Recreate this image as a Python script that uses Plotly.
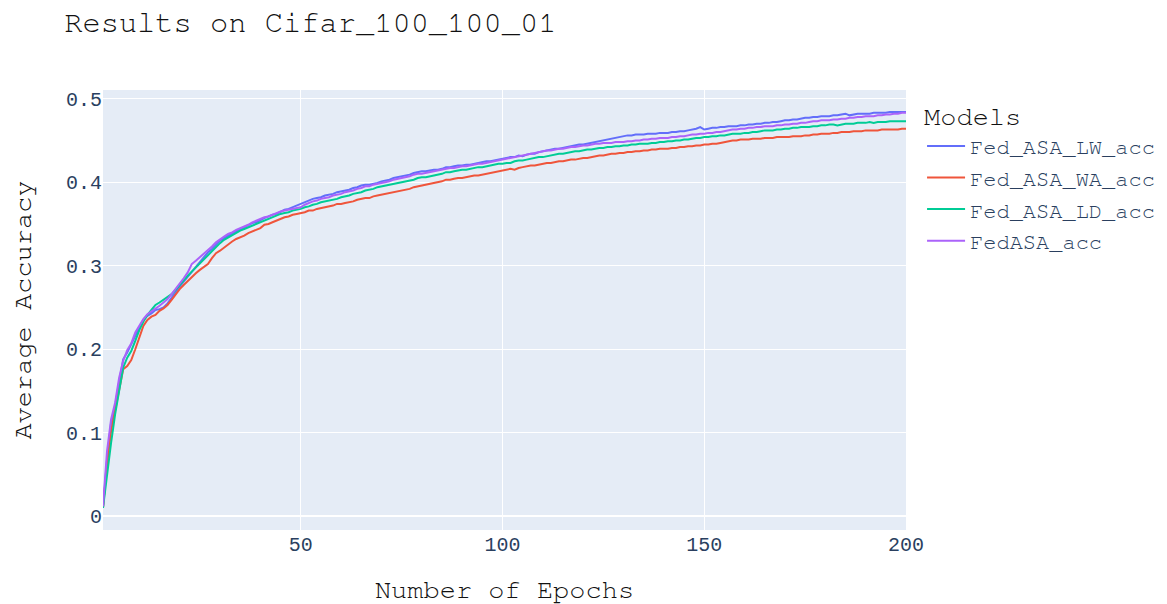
import plotly.graph_objects as go

epochs = list(range(1, 201))

fed_asa_lw = [
    0.010, 0.068, 0.112, 0.132, 0.161, 0.188, 0.196, 0.206, 0.218, 0.226,
    0.235, 0.240, 0.243, 0.247, 0.248, 0.250, 0.255, 0.262, 0.268, 0.275,
    0.281, 0.287, 0.293, 0.299, 0.305, 0.310, 0.316, 0.320, 0.325, 0.330,
    0.333, 0.336, 0.339, 0.341, 0.344, 0.346, 0.349, 0.351, 0.352, 0.355,
    0.357, 0.359, 0.361, 0.362, 0.365, 0.367, 0.368, 0.370, 0.372, 0.374,
    0.376, 0.378, 0.380, 0.381, 0.382, 0.384, 0.385, 0.386, 0.388, 0.389,
    0.390, 0.391, 0.393, 0.394, 0.396, 0.397, 0.397, 0.398, 0.399, 0.401,
    0.402, 0.403, 0.405, 0.406, 0.407, 0.408, 0.409, 0.411, 0.412, 0.413,
    0.413, 0.414, 0.415, 0.415, 0.416, 0.418, 0.418, 0.419, 0.420, 0.420,
    0.421, 0.421, 0.422, 0.423, 0.424, 0.425, 0.425, 0.426, 0.427, 0.428,
    0.429, 0.430, 0.430, 0.432, 0.431, 0.433, 0.434, 0.434, 0.436, 0.437,
    0.438, 0.439, 0.440, 0.440, 0.441, 0.442, 0.443, 0.444, 0.445, 0.445,
    0.446, 0.447, 0.448, 0.449, 0.450, 0.451, 0.452, 0.453, 0.454, 0.455,
    0.456, 0.456, 0.457, 0.457, 0.457, 0.458, 0.458, 0.458, 0.459, 0.459,
    0.459, 0.460, 0.460, 0.461, 0.461, 0.462, 0.463, 0.464, 0.466, 0.463,
    0.464, 0.465, 0.465, 0.466, 0.466, 0.467, 0.467, 0.467, 0.468, 0.468,
    0.469, 0.469, 0.470, 0.470, 0.471, 0.471, 0.472, 0.472, 0.473, 0.474,
    0.474, 0.475, 0.475, 0.476, 0.477, 0.477, 0.478, 0.478, 0.479, 0.479,
    0.479, 0.480, 0.480, 0.481, 0.482, 0.480, 0.481, 0.482, 0.482, 0.482,
    0.482, 0.483, 0.483, 0.483, 0.483, 0.484, 0.484, 0.484, 0.484, 0.484,
]

fed_asa_wa = [
    0.010, 0.062, 0.102, 0.126, 0.152, 0.176, 0.180, 0.187, 0.200, 0.215,
    0.228, 0.235, 0.239, 0.241, 0.246, 0.249, 0.253, 0.259, 0.266, 0.272,
    0.277, 0.282, 0.286, 0.291, 0.295, 0.298, 0.302, 0.309, 0.315, 0.318,
    0.322, 0.326, 0.329, 0.332, 0.334, 0.336, 0.339, 0.341, 0.343, 0.345,
    0.349, 0.350, 0.352, 0.354, 0.356, 0.358, 0.359, 0.361, 0.362, 0.363,
    0.364, 0.366, 0.366, 0.368, 0.369, 0.370, 0.371, 0.372, 0.374, 0.374,
    0.375, 0.376, 0.377, 0.379, 0.380, 0.381, 0.381, 0.383, 0.384, 0.385,
    0.386, 0.387, 0.388, 0.389, 0.390, 0.391, 0.392, 0.394, 0.395, 0.396,
    0.397, 0.398, 0.399, 0.400, 0.401, 0.403, 0.403, 0.404, 0.405, 0.405,
    0.406, 0.407, 0.408, 0.408, 0.409, 0.410, 0.411, 0.412, 0.413, 0.414,
    0.415, 0.416, 0.415, 0.417, 0.418, 0.419, 0.420, 0.420, 0.421, 0.422,
    0.423, 0.423, 0.424, 0.425, 0.425, 0.426, 0.427, 0.427, 0.428, 0.429,
    0.429, 0.430, 0.431, 0.432, 0.432, 0.433, 0.434, 0.434, 0.435, 0.435,
    0.436, 0.436, 0.437, 0.437, 0.438, 0.438, 0.439, 0.439, 0.440, 0.440,
    0.440, 0.441, 0.441, 0.442, 0.442, 0.443, 0.443, 0.444, 0.444, 0.445,
    0.445, 0.446, 0.446, 0.447, 0.448, 0.449, 0.450, 0.450, 0.451, 0.451,
    0.451, 0.452, 0.452, 0.452, 0.453, 0.453, 0.453, 0.454, 0.454, 0.454,
    0.454, 0.455, 0.455, 0.455, 0.456, 0.456, 0.457, 0.457, 0.458, 0.458,
    0.458, 0.459, 0.459, 0.460, 0.460, 0.460, 0.461, 0.461, 0.461, 0.462,
    0.462, 0.462, 0.462, 0.463, 0.463, 0.463, 0.463, 0.463, 0.464, 0.464,
]

fed_asa_ld = [
    0.010, 0.052, 0.088, 0.122, 0.150, 0.178, 0.190, 0.198, 0.210, 0.223,
    0.233, 0.241, 0.247, 0.253, 0.256, 0.259, 0.262, 0.266, 0.271, 0.277,
    0.282, 0.288, 0.293, 0.298, 0.303, 0.308, 0.313, 0.318, 0.323, 0.327,
    0.331, 0.334, 0.337, 0.340, 0.342, 0.344, 0.346, 0.348, 0.350, 0.352,
    0.354, 0.356, 0.358, 0.360, 0.362, 0.363, 0.364, 0.366, 0.367, 0.368,
    0.370, 0.371, 0.373, 0.374, 0.376, 0.377, 0.378, 0.379, 0.380, 0.382,
    0.383, 0.384, 0.386, 0.387, 0.388, 0.390, 0.391, 0.392, 0.394, 0.395,
    0.396, 0.397, 0.398, 0.399, 0.400, 0.401, 0.402, 0.403, 0.405, 0.406,
    0.406, 0.407, 0.408, 0.409, 0.410, 0.412, 0.412, 0.413, 0.414, 0.415,
    0.415, 0.416, 0.417, 0.418, 0.418, 0.419, 0.420, 0.421, 0.422, 0.422,
    0.423, 0.423, 0.425, 0.426, 0.426, 0.427, 0.428, 0.429, 0.430, 0.430,
    0.431, 0.432, 0.433, 0.434, 0.434, 0.435, 0.436, 0.437, 0.437, 0.438,
    0.439, 0.439, 0.440, 0.441, 0.441, 0.442, 0.442, 0.443, 0.443, 0.444,
    0.444, 0.445, 0.445, 0.446, 0.446, 0.446, 0.447, 0.447, 0.448, 0.448,
    0.449, 0.449, 0.450, 0.450, 0.451, 0.451, 0.452, 0.453, 0.453, 0.454,
    0.454, 0.455, 0.455, 0.456, 0.456, 0.457, 0.458, 0.458, 0.458, 0.459,
    0.459, 0.460, 0.460, 0.461, 0.462, 0.462, 0.462, 0.463, 0.463, 0.464,
    0.464, 0.465, 0.465, 0.466, 0.466, 0.466, 0.467, 0.467, 0.468, 0.468,
    0.469, 0.469, 0.468, 0.469, 0.470, 0.470, 0.470, 0.471, 0.471, 0.471,
    0.472, 0.471, 0.472, 0.472, 0.472, 0.473, 0.473, 0.473, 0.473, 0.473,
]

fedasa = [
    0.012, 0.078, 0.116, 0.136, 0.166, 0.186, 0.199, 0.207, 0.220, 0.228,
    0.236, 0.242, 0.245, 0.249, 0.252, 0.256, 0.260, 0.266, 0.272, 0.278,
    0.285, 0.292, 0.302, 0.306, 0.310, 0.315, 0.319, 0.323, 0.328, 0.332,
    0.335, 0.338, 0.340, 0.343, 0.345, 0.347, 0.349, 0.352, 0.354, 0.356,
    0.358, 0.359, 0.361, 0.363, 0.365, 0.366, 0.367, 0.368, 0.369, 0.370,
    0.373, 0.375, 0.377, 0.378, 0.380, 0.381, 0.382, 0.384, 0.385, 0.386,
    0.388, 0.389, 0.390, 0.392, 0.393, 0.395, 0.395, 0.397, 0.398, 0.399,
    0.400, 0.401, 0.403, 0.404, 0.405, 0.406, 0.407, 0.409, 0.410, 0.410,
    0.411, 0.412, 0.413, 0.414, 0.415, 0.416, 0.417, 0.417, 0.418, 0.419,
    0.419, 0.420, 0.421, 0.422, 0.422, 0.423, 0.424, 0.425, 0.426, 0.427,
    0.428, 0.429, 0.430, 0.431, 0.432, 0.433, 0.434, 0.435, 0.436, 0.437,
    0.438, 0.438, 0.439, 0.440, 0.440, 0.441, 0.442, 0.442, 0.443, 0.444,
    0.444, 0.445, 0.446, 0.446, 0.447, 0.447, 0.447, 0.448, 0.448, 0.448,
    0.449, 0.449, 0.450, 0.450, 0.451, 0.451, 0.452, 0.452, 0.453, 0.453,
    0.453, 0.454, 0.454, 0.455, 0.455, 0.456, 0.457, 0.457, 0.458, 0.458,
    0.459, 0.459, 0.460, 0.460, 0.461, 0.462, 0.463, 0.463, 0.464, 0.464,
    0.465, 0.465, 0.466, 0.466, 0.467, 0.467, 0.467, 0.468, 0.468, 0.469,
    0.469, 0.470, 0.470, 0.471, 0.471, 0.472, 0.473, 0.473, 0.474, 0.474,
    0.474, 0.475, 0.475, 0.476, 0.476, 0.477, 0.477, 0.478, 0.478, 0.479,
    0.479, 0.479, 0.480, 0.480, 0.481, 0.481, 0.482, 0.482, 0.483, 0.483,
]

series_names = ["Fed_ASA_LW_acc", "Fed_ASA_WA_acc", "Fed_ASA_LD_acc", "FedASA_acc"]
series_values = [fed_asa_lw, fed_asa_wa, fed_asa_ld, fedasa]
colors = ["#636efa", "#EF553B", "#00cc96", "#ab63fa"]

TITLE_FONT = "Nimbus Mono PS, Nimbus Mono L, FreeMono, Courier New, Courier, Liberation Mono, monospace"
TICK_FONT = "Liberation Mono, monospace"

fig = go.Figure()
for name, vals, col in zip(series_names, series_values, colors):
    fig.add_trace(go.Scatter(x=epochs, y=vals, mode="lines", name=name,
                             line=dict(color=col, width=2)))

fig.update_layout(
    template="plotly",
    width=1167, height=604,
    margin=dict(l=103, r=261, t=90, b=74, autoexpand=False),
    title=dict(text="Results on Cifar_100_100_01", x=0.055, xanchor="left",
               y=0.965, yanchor="middle", yref="container",
               font=dict(family=TITLE_FONT, size=30.4, color="#111")),
    font=dict(family=TITLE_FONT, color="#2a3f5f"),
    legend=dict(title=dict(text="Models", font=dict(family=TITLE_FONT, size=27, color="#111")),
                font=dict(family=TITLE_FONT, size=22, color="#2a3f5f"),
                itemwidth=38, tracegroupgap=0,
                x=1.02, xanchor="left", y=1, yanchor="top"),
    xaxis=dict(title=dict(text="Number of Epochs", font=dict(family=TITLE_FONT, size=27, color="#111"),
                          standoff=24),
               tickfont=dict(family=TICK_FONT, size=20, color="#2a3f5f"),
               tickvals=[50, 100, 150, 200], automargin=False),
    yaxis=dict(title=dict(text="Average Accuracy", font=dict(family=TITLE_FONT, size=27, color="#111"),
                          standoff=26),
               tickfont=dict(family=TICK_FONT, size=20, color="#2a3f5f"),
               tickvals=[0, 0.1, 0.2, 0.3, 0.4, 0.5], automargin=False),
)

fig.write_html("out.html")
